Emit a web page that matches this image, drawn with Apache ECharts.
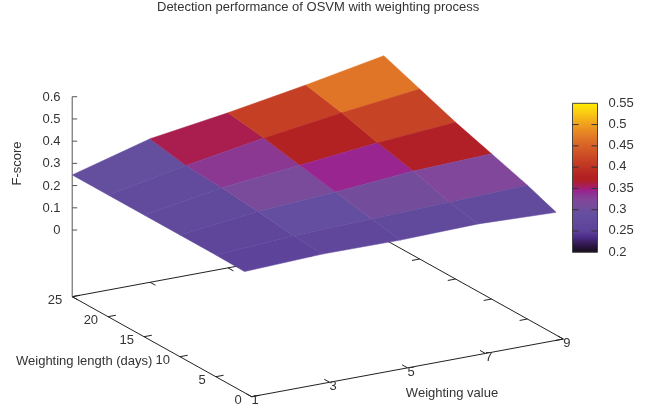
<!DOCTYPE html>
<html>
<head>
<meta charset="utf-8">
<style>html,body{margin:0;padding:0;background:#fff}#c{width:660px;height:412px}</style>
<script src="https://cdn.jsdelivr.net/npm/echarts@6/dist/echarts.min.js"></script>
</head>
<body>
<div id="c"></div>
<script>
const weightingValues = [1, 3, 5, 7, 9];
const weightingLengths = [25, 20, 15, 10, 5, 1];
const fScore25 = [0.248, 0.346, 0.398, 0.458, 0.525];
const fScore20 = [0.248, 0.316, 0.374, 0.423, 0.465];
const fScore15 = [0.248, 0.306, 0.342, 0.378, 0.405];
const fScore10 = [0.248, 0.289, 0.311, 0.341, 0.354];
const fScore5 = [0.248, 0.270, 0.280, 0.290, 0.302];
const fScore1 = [0.245, 0.259, 0.257, 0.265, 0.252];
const fScoreRows = [fScore25, fScore20, fScore15, fScore10, fScore5, fScore1];

const xTicks = [1, 3, 5, 7, 9];
const yTicks = [0, 5, 10, 15, 20, 25];
const zTicks = [0, 0.1, 0.2, 0.3, 0.4, 0.5, 0.6];
const cbTicks = [0.2, 0.25, 0.3, 0.35, 0.4, 0.45, 0.5, 0.55];

const titleText = 'Detection performance of OSVM with weighting process';
const xName = 'Weighting value';
const yName = 'Weighting length (days)';
const zName = 'F-score';

// Palette: colour stops over the F-score range
const paletteStops = [
  [0.2, '#150d18'], [0.215, '#2a1440'], [0.235, '#4a2a85'], [0.25, '#5c4199'],
  [0.27, '#61489c'], [0.29, '#644f9f'], [0.312, '#7a4b9b'], [0.322, '#81479a'],
  [0.335, '#8b3793'], [0.345, '#9c2090'], [0.358, '#a91e50'], [0.37, '#b02024'],
  [0.379, '#b32222'], [0.415, '#c64025'], [0.468, '#e07528'], [0.5, '#f0a01e'],
  [0.53, '#fad010'], [0.55, '#ffee00']
];
const cbMin = 0.2, cbMax = 0.55;

// Projection of the plot's three axes on the page
const view = {
  ox: 251.7, oy: 396.7, xMin: 1, zMin: -0.3,
  xx: 38.95, xy: -7.21, yx: -7.18, yy: -4, zy: -222.2
};
function project(x, y, z) {
  const dx = x - view.xMin, dz = z - view.zMin;
  return [view.ox + dx * view.xx + y * view.yx,
          view.oy + dx * view.xy + y * view.yy + dz * view.zy];
}
const cbBox = { x0: 572.5, x1: 597.5, y0: 103.3, y1: 252.3 };
function cbY(v) { return cbBox.y1 - (v - cbMin) / (cbMax - cbMin) * (cbBox.y1 - cbBox.y0); }

function hex(c) { return [1, 3, 5].map(i => parseInt(c.substr(i, 2), 16)); }
function colorOf(v) {
  if (v <= paletteStops[0][0]) return paletteStops[0][1];
  for (let i = 1; i < paletteStops.length; i++) {
    if (v <= paletteStops[i][0]) {
      const a = paletteStops[i - 1], b = paletteStops[i];
      const t = (v - a[0]) / (b[0] - a[0]);
      const ca = hex(a[1]), cb = hex(b[1]);
      return 'rgb(' + ca.map((q, k) => Math.round(q + (cb[k] - q) * t)).join(',') + ')';
    }
  }
  return paletteStops[paletteStops.length - 1][1];
}

// Surface cells from the value rows
const cells = [];
for (let r = 0; r < weightingLengths.length - 1; r++) {
  for (let c = 0; c < weightingValues.length - 1; c++) {
    cells.push([
      weightingValues[c], weightingValues[c + 1], weightingLengths[r], weightingLengths[r + 1],
      fScoreRows[r][c], fScoreRows[r][c + 1], fScoreRows[r + 1][c + 1], fScoreRows[r + 1][c]
    ]);
  }
}

// Axis lines
const zLo = view.zMin, zTop = 0.6, yMax = 25, xLo = 1, xHi = 9;
const xTick = 0.2, yTick = 0.75;
const segs = [
  [xLo, 0, zLo, xHi, 0, zLo], [xLo, yMax, zLo, xHi, yMax, zLo],
  [xLo, 0, zLo, xLo, yMax, zLo], [xHi, 0, zLo, xHi, yMax, zLo]
];
xTicks.forEach(t => {
  segs.push([t, 0, zLo, t, yTick, zLo]);
  segs.push([t, yMax, zLo, t, yMax - yTick, zLo]);
});
yTicks.forEach(t => {
  segs.push([xLo, t, zLo, xLo + xTick, t, zLo]);
  segs.push([xHi, t, zLo, xHi - xTick, t, zLo]);
});

const zAxisSegs = [[xLo, yMax, zLo, xLo, yMax, zTop]];
const zTickLen = 5;

// Text
const labels = [];
zTicks.forEach(t => {
  const p = project(xLo, yMax, t);
  labels.push({ p: [60.5, p[1] + 0.5], t: String(t), a: 'right' });
});
yTicks.forEach(t => {
  const p = project(xLo, t, zLo);
  labels.push({ p: [p[0] - 10, p[1] + 4], t: String(t), a: 'right' });
});
xTicks.forEach(t => {
  const p = project(t, 0, zLo);
  labels.push({ p: [p[0] + 3.5, p[1] + 4.2], t: String(t), a: 'center' });
});
cbTicks.forEach(t => {
  labels.push({ p: [608.5, cbY(t) - 0.3], t: String(t), a: 'left' });
});
labels.push({ p: [16, 361], t: yName, a: 'left' });
labels.push({ p: [452, 393.5], t: xName, a: 'center' });
labels.push({ p: [17, 163.5], t: zName, a: 'center', rot: Math.PI / 2 });

const FONT = '13px "Liberation Sans", Arial, sans-serif';
const TEXT = '#333';
const LINE = '#222';

function lineShape(api, a, b, color, w) {
  const p = api.coord(a), q = api.coord(b);
  return {
    type: 'line',
    shape: { x1: p[0], y1: p[1], x2: q[0], y2: q[1] },
    style: { stroke: color, lineWidth: w, fill: null }
  };
}

const option = {
  animation: false,
  backgroundColor: '#fff',
  title: {
    text: titleText, left: 152, top: -4,
    textStyle: { fontFamily: 'Liberation Sans', fontSize: 13, fontWeight: 'normal', color: TEXT }
  },
  grid: { left: 0, right: 0, top: 0, bottom: 0 },
  xAxis: { type: 'value', min: 0, max: 660, show: false },
  yAxis: { type: 'value', min: 0, max: 412, inverse: true, show: false },
  series: [
    {
      type: 'custom', coordinateSystem: 'cartesian2d', silent: true, clip: false, z: 2,
      data: segs,
      renderItem(params, api) {
        const v = [0, 1, 2, 3, 4, 5].map(i => api.value(i));
        return lineShape(api, project(v[0], v[1], v[2]), project(v[3], v[4], v[5]), LINE, 1);
      }
    },
    {
      type: 'custom', coordinateSystem: 'cartesian2d', silent: true, clip: false, z: 2,
      data: zAxisSegs.concat(zTicks.map(t => [xLo, yMax, t, xLo, yMax, t])),
      renderItem(params, api) {
        const v = [0, 1, 2, 3, 4, 5].map(i => api.value(i));
        const a = project(v[0], v[1], v[2]), b = project(v[3], v[4], v[5]);
        if (params.dataIndex > 0) b[0] += zTickLen;
        return lineShape(api, a, b, '#555', 1);
      }
    },
    {
      type: 'custom', coordinateSystem: 'cartesian2d', silent: true, clip: false, z: 3,
      data: cells,
      renderItem(params, api) {
        const v = [0, 1, 2, 3, 4, 5, 6, 7].map(i => api.value(i));
        const pts = [
          project(v[0], v[2], v[4]), project(v[1], v[2], v[5]),
          project(v[1], v[3], v[6]), project(v[0], v[3], v[7])
        ].map(p => api.coord(p));
        const col = colorOf((v[4] + v[5] + v[6] + v[7]) / 4);
        return {
          type: 'polygon', shape: { points: pts },
          style: { fill: col, stroke: col, lineWidth: 0.5 }
        };
      }
    },
    {
      type: 'custom', coordinateSystem: 'cartesian2d', silent: true, clip: false, z: 4,
      data: [[cbMin, cbMax]],
      renderItem(params, api) {
        const tl = api.coord([cbBox.x0, cbBox.y0]), br = api.coord([cbBox.x1, cbBox.y1]);
        const stops = paletteStops.map(s => ({
          offset: (s[0] - cbMin) / (cbMax - cbMin), color: s[1]
        }));
        return {
          type: 'rect',
          shape: { x: tl[0], y: tl[1], width: br[0] - tl[0], height: br[1] - tl[1] },
          style: {
            fill: new echarts.graphic.LinearGradient(0, 1, 0, 0, stops),
            stroke: '#444', lineWidth: 1
          }
        };
      }
    },
    {
      type: 'custom', coordinateSystem: 'cartesian2d', silent: true, clip: false, z: 5,
      data: cbTicks.slice(1, -1).map(t => [t]),
      renderItem(params, api) {
        const y = cbY(api.value(0));
        return {
          type: 'group',
          children: [
            lineShape(api, [cbBox.x0, y], [cbBox.x0 + 6, y], '#333', 1),
            lineShape(api, [cbBox.x1 - 6, y], [cbBox.x1, y], '#333', 1)
          ]
        };
      }
    },
    {
      type: 'custom', coordinateSystem: 'cartesian2d', silent: true, clip: false, z: 6,
      data: labels.map((l, i) => [i]),
      renderItem(params, api) {
        const l = labels[params.dataIndex];
        const p = api.coord(l.p);
        const e = {
          type: 'text', x: p[0], y: p[1],
          style: {
            text: l.t, font: FONT, fill: TEXT,
            textAlign: l.a, textVerticalAlign: 'middle'
          }
        };
        if (l.rot) e.rotation = l.rot;
        return e;
      }
    }
  ]
};
echarts.init(document.getElementById('c'), null, { renderer: 'canvas' }).setOption(option);
</script>
</body>
</html>
